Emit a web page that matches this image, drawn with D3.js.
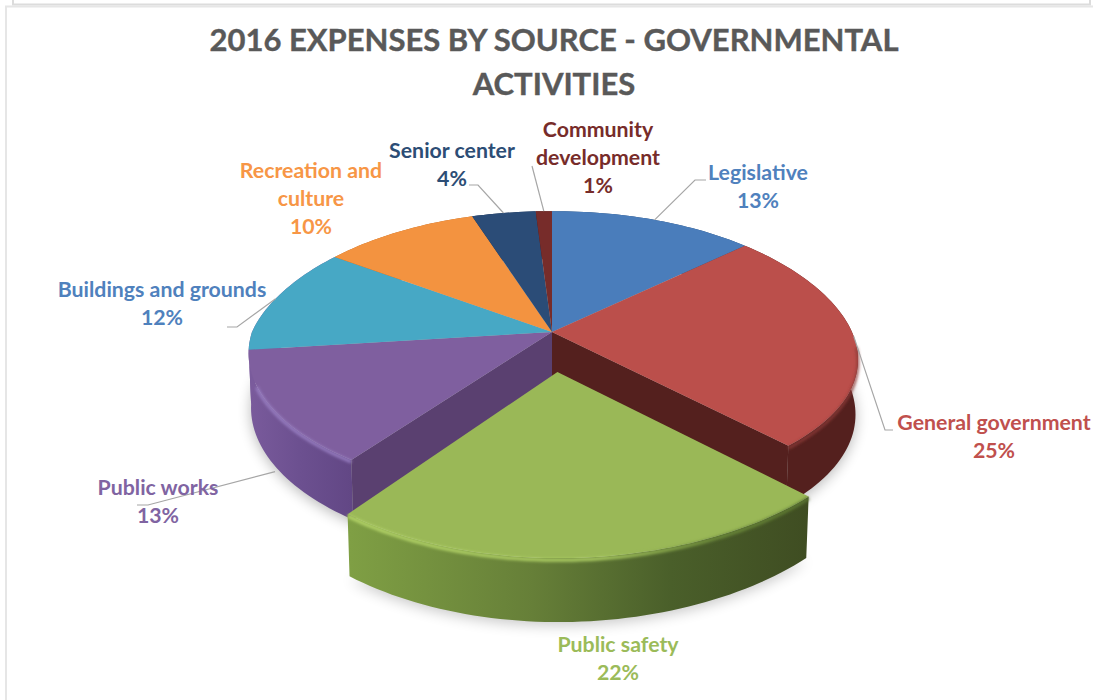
<!DOCTYPE html>
<html>
<head>
<meta charset="utf-8">
<script src="https://cdnjs.cloudflare.com/ajax/libs/d3/7.8.5/d3.min.js"></script>
<style>
html, body { margin: 0; padding: 0; background: #fff; }
svg { display: block; }
text { font-family: Lato, "Open Sans", sans-serif; font-weight: 700; text-anchor: middle; }
</style>
</head>
<body>
<div id="chart"></div>
<script>
// chart data
var titleLines = ["2016 EXPENSES BY SOURCE - GOVERNMENTAL", "ACTIVITIES"];
var categories = ["Legislative", "General government", "Public safety", "Public works", "Buildings and grounds", "Recreation and culture", "Senior center", "Community development"];
var values = [13, 25, 22, 13, 12, 10, 4, 1];

// styles and layout, same order as categories
var topColors = ["#4a7dbb", "#bb4f4b", "#9ab857", "#7f5f9f", "#47a8c5", "#f39340", "#2b4c77", "#772c2a"];
var labelColors = ["#4f81bd", "#c0504d", "#9bbb59", "#8064a2", "#4f81bd", "#f79646", "#2c4d75", "#772c2a"];
var wallColors = ["#2c4d75", "#54201e", "#5f7d35", "#6a4e8c", "#7a5b9c", "#b5631f", "#1a3050", "#4a1a18"];
var labelLines = [["Legislative"], ["General government"], ["Public safety"], ["Public works"], ["Buildings and grounds"], ["Recreation and", "culture"], ["Senior center"], ["Community", "development"]];
var labelX = [758, 994, 618, 158, 162, 311, 452, 598];
var labelY = [180, 430, 652, 495, 297, 178, 158, 137];
var lineGap = 28;
var leaderElbow = [[[695, 180], [706, 180]], [[885, 430], [893, 430]], null, [[148, 505], [137, 505]], [[237, 327], [227, 327]], null, [[478, 185], [469, 185]], [[532, 166]]];
var leaderDepth = [0, 0, 0, 1.1, 0, 0, 0, 0];

var w = 1093, h = 700;

// the pie is a flat disc seen in perspective, this takes a disc point to the screen
var cx = 552, cy = 332, R = 300, A = 139, persp = 0.15, D = 54;
function project(u, v, z) {
    var s = 1 - persp * v + 0.008 * z;
    // hand tuned so the slice corners land where they are in the picture
    var f = 1;
    if (v < 0) f = 1 + 0.055 * Math.abs(u) * v;
    else if (u > 0) f = 1 + 0.05 * u * v;
    var front = v > 1 ? 25 * (v - 1) : 0;
    return [cx + f * R * u / s, cy + (A * v + D * z) / s + front];
}
function rimPoint(angle, z, shift) {
    var u = Math.sin(angle) + (shift ? shift[0] : 0);
    var v = -Math.cos(angle) + (shift ? shift[1] : 0);
    return project(u, v, z);
}
var line = d3.line();

var arcs = d3.pie().sort(null).value(d => d)(values);
function mid(a) { return (a.startAngle + a.endAngle) / 2; }

// green slice is pulled out of the pie
var explodeIndex = 2, explode = 0.276;
function shiftOf(i) {
    if (i != explodeIndex) return [0, 0];
    var m = mid(arcs[i]);
    return [Math.sin(m) * explode, -Math.cos(m) * explode];
}
function arcPoints(a, i, z) {
    var n = Math.max(4, Math.ceil((a.endAngle - a.startAngle) * 40));
    return d3.range(n + 1).map(k => rimPoint(a.startAngle + (a.endAngle - a.startAngle) * k / n, z, shiftOf(i)));
}
function topPath(a, i) {
    var s = shiftOf(i);
    return line([project(s[0], s[1], 0)].concat(arcPoints(a, i, 0))) + "Z";
}
function wallPath(a, i) {
    return line(arcPoints(a, i, 0).concat(arcPoints(a, i, 1).reverse())) + "Z";
}
function sidePath(angle) {
    return line([project(0, 0, 0), rimPoint(angle, 0), rimPoint(angle, 1), project(0, 0, 1)]) + "Z";
}

var svg = d3.select("#chart").append("svg").attr("width", w).attr("height", h);
var defs = svg.append("defs");

function blur(id, dev) {
    defs.append("filter").attr("id", id)
        .attr("x", "-20%").attr("y", "-20%").attr("width", "140%").attr("height", "140%")
        .append("feGaussianBlur").attr("stdDeviation", dev);
}
blur("soft", 7);
blur("rim", 1.6);

function gradient(id, x1, x2, stops) {
    var g = defs.append("linearGradient").attr("id", id).attr("gradientUnits", "userSpaceOnUse")
        .attr("x1", x1).attr("x2", x2).attr("y1", 0).attr("y2", 0);
    stops.forEach(s => g.append("stop").attr("offset", s[0]).attr("stop-color", s[1]));
}
gradient("greenWall", 350, 808, [[0, "#7f9f44"], [0.4, "#667f38"], [0.7, "#4a5f2a"], [1, "#3f4d22"]]);
gradient("purpleWall", 247, 352, [[0, "#7a5b9c"], [0.5, "#6c5090"], [1, "#624785"]]);
gradient("greenRim", 350, 808, [[0, "#b4d468"], [0.55, "#aacb62"], [0.8, "#6c8a3a"], [1, "#5a7530"]]);

// page frames left around the crop
svg.append("path").attr("d", line([[13, 0], [13, 4.5], [1090, 4.5], [1090, 0]])).attr("fill", "none").attr("stroke", "#dcdcdc").attr("stroke-width", 2);
svg.append("path").attr("d", line([[6, 700], [6, 6.5], [1093, 6.5]])).attr("fill", "none").attr("stroke", "#e6e6e6").attr("stroke-width", 2);

svg.append("g").selectAll("text").data(titleLines).enter().append("text")
    .attr("x", 554)
    .attr("y", (d, i) => 51 + i * 44)
    .attr("font-size", 31)
    .attr("fill", "#595959")
    .attr("stroke", "#595959")
    .attr("stroke-width", 0.4)
    .text(d => d);

// drop shadow under the base
var base = d3.range(0, 2 * Math.PI + 0.02, 0.02).map(t => rimPoint(t, 1.05));
svg.append("path").attr("d", line(base) + "Z").attr("fill", "#000").attr("opacity", 0.28).attr("filter", "url(#soft)");

var body = arcs.map((a, i) => ({ a: a, i: i })).filter(d => d.i != explodeIndex);

// outer walls, then the two cut faces the pulled slice uncovers, then the tops
svg.append("g").selectAll("path").data(body).enter().append("path")
    .attr("d", d => wallPath(d.a, d.i))
    .attr("fill", d => d.i == 3 ? "url(#purpleWall)" : wallColors[d.i]);
svg.append("path").attr("d", sidePath(arcs[1].endAngle)).attr("fill", "#54201e");
svg.append("path").attr("d", sidePath(arcs[3].startAngle)).attr("fill", "#5a4070");
svg.append("g").selectAll("path").data(body).enter().append("path")
    .attr("d", d => topPath(d.a, d.i))
    .attr("fill", d => topColors[d.i]);

// bevel along the front edges
var purpleRim = arcPoints(arcs[3], 3, 0.03);
svg.append("path").attr("d", line(purpleRim.slice(0, Math.round(purpleRim.length * 0.7)))).attr("fill", "none")
    .attr("stroke", "#9a80c4").attr("stroke-width", 3).attr("filter", "url(#rim)");
svg.append("path").attr("d", line(arcPoints(arcs[1], 1, 0.04).slice(34))).attr("fill", "none")
    .attr("stroke", "#8e3b38").attr("stroke-width", 2.5).attr("filter", "url(#rim)");

// pulled out slice
var gShadow = arcs[explodeIndex];
svg.append("path").attr("d", line(arcPoints(gShadow, explodeIndex, 1.05)) + "Z").attr("fill", "#000").attr("opacity", 0.22).attr("filter", "url(#soft)");
svg.append("path").attr("d", wallPath(gShadow, explodeIndex)).attr("fill", "url(#greenWall)");
svg.append("path").attr("d", topPath(gShadow, explodeIndex)).attr("fill", topColors[explodeIndex]);
svg.append("path").attr("d", line(arcPoints(gShadow, explodeIndex, 0.03))).attr("fill", "none")
    .attr("stroke", "url(#greenRim)").attr("stroke-width", 3.5).attr("filter", "url(#rim)");

// leader lines start on the middle of their slice
var leaderGroup = svg.append("g");
arcs.forEach((a, i) => {
    if (!leaderElbow[i]) return;
    var start = rimPoint(mid(a), leaderDepth[i], shiftOf(i));
    leaderGroup.append("path")
        .attr("d", line([start].concat(leaderElbow[i])))
        .attr("fill", "none").attr("stroke", "#a6a6a6").attr("stroke-width", 1.2);
});

// labels: name lines and then the percentage
var labels = svg.append("g").selectAll("text")
    .data(arcs.map((a, i) => ({ i: i, lines: labelLines[i].concat([values[i] + "%"]) })))
    .enter().append("text")
    .attr("font-size", 21.3)
    .attr("fill", d => labelColors[d.i]);
labels.selectAll("tspan").data(d => d.lines.map((t, k) => ({ t: t, k: k, i: d.i }))).enter().append("tspan")
    .attr("x", d => labelX[d.i])
    .attr("y", d => labelY[d.i] + d.k * lineGap)
    .text(d => d.t);
</script>
</body>
</html>
